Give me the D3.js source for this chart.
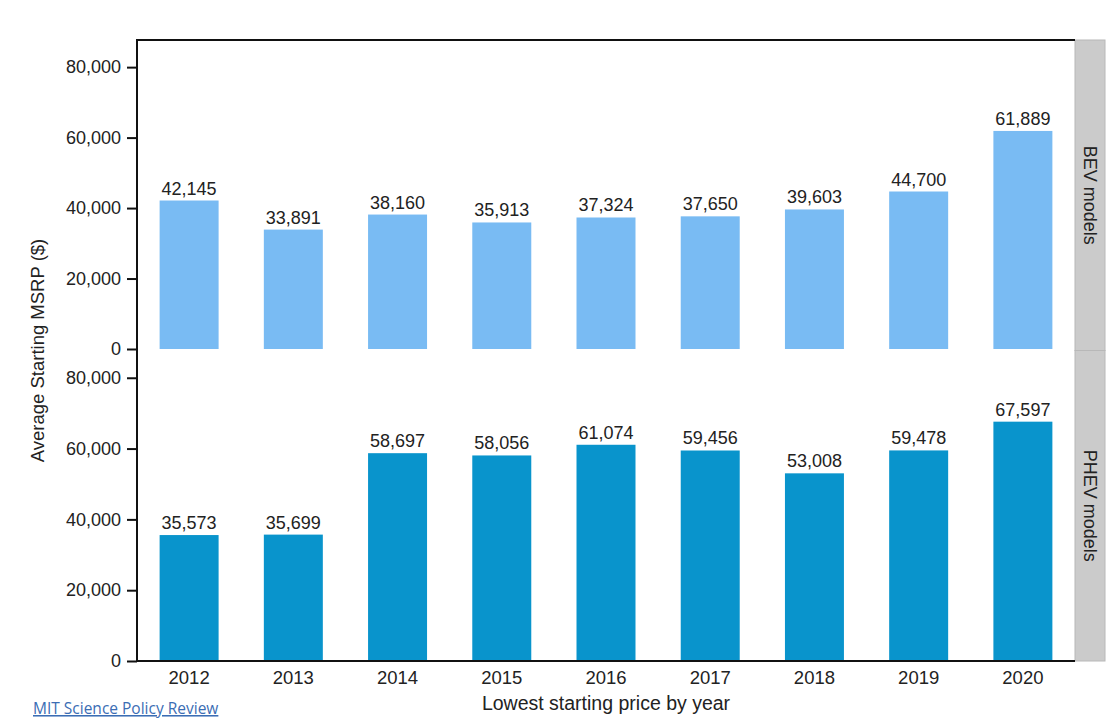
<!DOCTYPE html>
<html lang="en">
<head>
<meta charset="utf-8">
<style>
  body { margin: 0; background: #fff; }
  text { font-family: "Liberation Sans", Arial, sans-serif; fill: #222; }
  .axis path, .axis line { stroke: #111; }
  .src { font-family: "Open Sans", sans-serif; fill: #3b6db4; text-decoration: underline; }
</style>
<script src="https://d3js.org/d3.v7.min.js"></script>
<title>Average starting MSRP</title>
</head>
<body>
<div id="chart"></div>
<script>
// data
var years = ["2012", "2013", "2014", "2015", "2016", "2017", "2018", "2019", "2020"];
var bevValues = [42145, 33891, 38160, 35913, 37324, 37650, 39603, 44700, 61889];
var phevValues = [35573, 35699, 58697, 58056, 61074, 59456, 53008, 59478, 67597];
var yTicks = [0, 20000, 40000, 60000, 80000];
var facetNames = ["BEV models", "PHEV models"];
var facetColors = ["#79bbf3", "#0994cc"];

var W = 1114, H = 719;
var plotLeft = 137, plotRight = 1075, plotTop = 40, plotBottom = 661;
var stripW = 30;

var svg = d3.select("#chart").append("svg")
    .attr("width", W)
    .attr("height", H);

var x = d3.scaleBand()
    .domain(years)
    .range([plotLeft, plotRight])
    .paddingInner(0.434)
    .paddingOuter(0.217);

// two facets stacked, same y domain
var panelH = (plotBottom - plotTop) / 2;
var facets = [
    {name: facetNames[0], values: bevValues, color: facetColors[0], y0: plotTop, y1: plotTop + panelH},
    {name: facetNames[1], values: phevValues, color: facetColors[1], y0: plotTop + panelH, y1: plotBottom}
];

var fmt = d3.format(",");

facets.forEach(function(f, i) {
    var y = d3.scaleLinear()
        .domain([0, 87700])
        .range([f.y1 - (i === 0 ? 1.5 : 0), f.y0]);

    var rows = years.map(function(yr, j) { return {year: yr, value: f.values[j]}; });

    svg.append("g").selectAll("rect")
        .data(rows)
        .enter().append("rect")
            .attr("x", function(d) { return x(d.year); })
            .attr("y", function(d) { return y(d.value); })
            .attr("width", x.bandwidth())
            .attr("height", function(d) { return y(0) - y(d.value); })
            .attr("fill", f.color);

    svg.append("g").selectAll("text")
        .data(rows)
        .enter().append("text")
            .attr("x", function(d) { return x(d.year) + x.bandwidth() / 2; })
            .attr("y", function(d) { return y(d.value) - 6; })
            .attr("text-anchor", "middle")
            .style("font-size", "18px")
            .text(function(d) { return fmt(d.value); });

    var ax = svg.append("g")
        .attr("class", "axis")
        .attr("transform", "translate(" + plotLeft + ",0)")
        .call(d3.axisLeft(y).tickValues(yTicks).tickFormat(fmt).tickSize(10).tickPadding(6));
    ax.select(".domain").remove();
    ax.selectAll(".tick line").attr("stroke-width", 2);
    ax.selectAll(".tick text").style("font-size", "18px").attr("fill", "#222");

    // grey facet strip
    svg.append("rect")
        .attr("x", plotRight)
        .attr("y", f.y0)
        .attr("width", stripW)
        .attr("height", f.y1 - f.y0)
        .attr("fill", "#cbcbcb")
        .attr("stroke", "#b8b8b8")
        .attr("stroke-width", 1);

    var cy = (f.y0 + f.y1) / 2;
    svg.append("text")
        .attr("transform", "translate(" + (plotRight + stripW / 2 - 6) + "," + cy + ") rotate(90)")
        .attr("text-anchor", "middle")
        .style("font-size", "18px")
        .text(f.name);
});

// frame lines: left axis, top, bottom axis
svg.append("line")
    .attr("x1", plotLeft).attr("x2", plotLeft)
    .attr("y1", plotTop - 1).attr("y2", plotBottom + 1)
    .attr("stroke", "#111").attr("stroke-width", 2);
svg.append("line")
    .attr("x1", plotLeft).attr("x2", plotRight)
    .attr("y1", plotTop).attr("y2", plotTop)
    .attr("stroke", "#111").attr("stroke-width", 2);

var xa = svg.append("g")
    .attr("class", "axis")
    .attr("transform", "translate(0," + plotBottom + ")")
    .call(d3.axisBottom(x).tickSize(0).tickPadding(10));
xa.select(".domain").attr("stroke-width", 2).attr("d", "M" + plotLeft + ",0H" + plotRight);
xa.selectAll(".tick text").style("font-size", "18.5px").attr("fill", "#222");

svg.append("text")
    .attr("x", (plotLeft + plotRight) / 2)
    .attr("y", 710)
    .attr("text-anchor", "middle")
    .style("font-size", "19.5px")
    .text("Lowest starting price by year");

svg.append("text")
    .attr("transform", "translate(44," + ((plotTop + plotBottom) / 2) + ") rotate(-90)")
    .attr("text-anchor", "middle")
    .style("font-size", "18.5px")
    .text("Average Starting MSRP ($)");

svg.append("text")
    .attr("class", "src")
    .attr("x", 33)
    .attr("y", 714)
    .style("font-size", "15.5px")
    .text("MIT Science Policy Review");
</script>
</body>
</html>
